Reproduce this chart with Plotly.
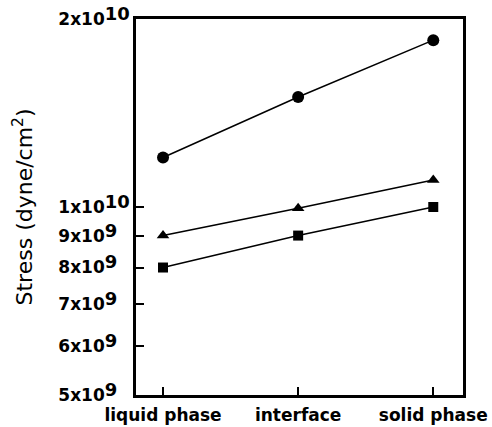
import plotly.graph_objects as go

categories = ["liquid phase", "interface", "solid phase"]
circle_vals = [1.20e10, 1.50e10, 1.85e10]
triangle_vals = [9.0e9, 9.95e9, 1.105e10]
square_vals = [8.0e9, 9.0e9, 1.0e10]

ytick_vals = [5e9, 6e9, 7e9, 8e9, 9e9, 1e10, 2e10]
ytick_mant = ["5", "6", "7", "8", "9", "1", "2"]
ytick_exp = ["9", "9", "9", "9", "9", "10", "10"]

EXP = "<span style='font-size:18px;baseline-shift:26%'>{}</span>"
# pad single-digit exponents with a figure space so labels line up on the left like the reference
ytick_text = [m + "x10" + EXP.format(e + ("\u2007" if len(e) == 1 else ""))
              for m, e in zip(ytick_mant, ytick_exp)]

xpos = list(range(len(categories)))

fig = go.Figure()
for vals, sym, size in [(circle_vals, "circle", 12), (triangle_vals, "triangle-up", 11), (square_vals, "square", 10)]:
    fig.add_trace(go.Scatter(x=xpos, y=vals, mode="lines+markers",
                             line=dict(color="black", width=1.5),
                             marker=dict(symbol=sym, size=size, color="black"),
                             showlegend=False))

fig.update_layout(
    width=492, height=427,
    margin=dict(l=136, r=29, t=19, b=32),
    paper_bgcolor="white", plot_bgcolor="white",
    font=dict(family="DejaVu Sans, Liberation Sans, sans-serif", color="black"),
)
fig.update_xaxes(
    range=[-0.2, 2.22], tickvals=xpos, ticktext=categories,
    ticks="inside", ticklen=8, tickwidth=2, tickcolor="black",
    showline=True, linecolor="black", linewidth=2.5, mirror=True,
    showgrid=False, zeroline=False, automargin=False,
    tickfont=dict(size=17, weight="bold"),
    ticklabelstandoff=3,
)
fig.update_yaxes(
    type="log", range=[9.69897, 10.30103],
    tickvals=ytick_vals, ticktext=ytick_text,
    ticks="inside", ticklen=8, tickwidth=2, tickcolor="black",
    showline=True, linecolor="black", linewidth=2.5, mirror=True,
    showgrid=False, zeroline=False, automargin=False,
    tickfont=dict(size=17, weight="bold"),
    title=dict(text="Stress (dyne/cm<sup>2</sup>)", font=dict(size=22), standoff=20),
)
fig.write_html("out.html")
